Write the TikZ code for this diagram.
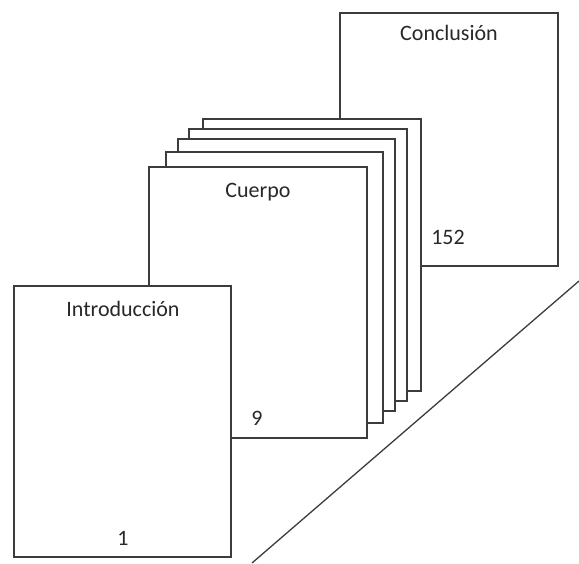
\documentclass[tikz,border=0pt]{standalone}
\usepackage{fontspec}
\setmainfont{Carlito}
\definecolor{ink}{RGB}{60,60,60}
\definecolor{txt}{RGB}{40,40,40}
\begin{document}
\begin{tikzpicture}[x=1pt,y=-1pt,
  page/.style={draw=ink, line width=1.3pt, fill=white, rectangle, anchor=north west, inner sep=0pt, outer sep=0pt},
  lbl/.style={text=txt, font=\fontsize{22}{26}\selectfont, anchor=base, inner sep=0pt},
  rule/.style={draw=ink, line width=1.3pt}]
\useasboundingbox (0,0) rectangle (579,563);
% Conclusion page (back)
\node[page, minimum width=218pt, minimum height=253pt] (concl) at (340,13) {};
% stacked body pages
\node[page, minimum width=218pt, minimum height=272pt] (p4) at (203,119) {};
\node[page, minimum width=218pt, minimum height=272pt] (p3) at (189,129) {};
\node[page, minimum width=217pt, minimum height=272pt] (p2) at (178,139) {};
\node[page, minimum width=217pt, minimum height=271pt] (p1) at (166,152) {};
\node[page, minimum width=218pt, minimum height=271pt] (cuerpo) at (149,167) {};
% Introduction page (front)
\node[page, minimum width=217pt, minimum height=271pt] (intro) at (14,286) {};
% labels
\node[lbl] (tconcl) at (449,40) {Conclusión};
\node[lbl] (n152) at (448,244) {152};
\node[lbl] (tcuerpo) at (258,197) {Cuerpo};
\node[lbl] (n9) at (257,425) {9};
\node[lbl] (tintro) at (123,316) {Introducción};
\node[lbl] (n1) at (123,545) {1};
% diagonal
\coordinate (d1) at (252,563);
\coordinate (d2) at (579,281);
\draw[rule] (d1) -- (d2);
\end{tikzpicture}
\end{document}
